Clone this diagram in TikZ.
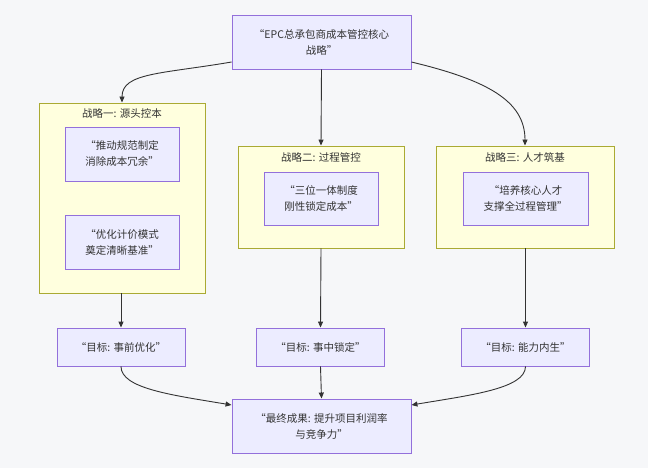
\documentclass[tikz,border=0pt]{standalone}
\usepackage{fontspec}
\setmainfont{Noto Sans CJK SC}
\usetikzlibrary{arrows.meta}
\definecolor{bg}{HTML}{F6F7F9}
\definecolor{nodefill}{HTML}{ECECFF}
\definecolor{nodeborder}{HTML}{9370DB}
\definecolor{clfill}{HTML}{FFFFDE}
\definecolor{clborder}{HTML}{AAAA33}
\definecolor{ink}{HTML}{333333}
\tikzset{
  box/.style={draw=nodeborder, fill=nodefill, line width=0.9pt, align=center,
    text=ink, font=\fontsize{10.5}{16}\selectfont, inner sep=0pt},
  cluster/.style={draw=clborder, fill=clfill, line width=0.9pt, inner sep=0pt},
  cltitle/.style={text=ink, font=\fontsize{10.5}{14}\selectfont, inner sep=0pt},
  link/.style={draw=ink, line width=0.9pt, -{Triangle[length=6pt,width=5pt]}},
}
\begin{document}
\begin{tikzpicture}[x=1pt,y=-1pt]
\fill[bg] (0,0) rectangle (648,468);
\useasboundingbox (0,0) rectangle (648,468);
% top
\node[box, minimum width=179pt, minimum height=54pt] (top) at (321.5,42) {“EPC总承包商成本管控核心\\战略”};
% clusters
\node[cluster, minimum width=166pt, minimum height=190pt] (c1) at (122,198) {};
\node[cluster, minimum width=166pt, minimum height=102pt] (c2) at (321,197) {};
\node[cluster, minimum width=178pt, minimum height=102pt] (c3) at (525,197) {};
\node[cltitle] (t1) at (122,113) {战略一: 源头控本};
\node[cltitle] (t2) at (321,157) {战略二: 过程管控};
\node[cltitle] (t3) at (525,157) {战略三: 人才筑基};
% inner boxes
\node[box, minimum width=114pt, minimum height=54pt] (a1) at (122,154) {“推动规范制定\\消除成本冗余”};
\node[box, minimum width=114pt, minimum height=54pt] (a2) at (122,242) {“优化计价模式\\奠定清晰基准”};
\node[box, minimum width=114pt, minimum height=53pt] (b1) at (321,198.5) {“三位一体制度\\刚性锁定成本”};
\node[box, minimum width=125pt, minimum height=53pt] (d1) at (525.5,198.5) {“培养核心人才\\支撑全过程管理”};
% goals
\node[box, minimum width=128pt, minimum height=38pt] (g1) at (121,347) {“目标: 事前优化”};
\node[box, minimum width=128pt, minimum height=38pt] (g2) at (320.5,347) {“目标: 事中锁定”};
\node[box, minimum width=128pt, minimum height=38pt] (g3) at (525.5,347) {“目标: 能力内生”};
% final
\node[box, minimum width=179pt, minimum height=54pt] (fin) at (321.5,426) {“最终成果: 提升项目利润率\\与竞争力”};
% edges
\draw[link] ([yshift=-20pt]top.west) .. controls +(-70,12) and +(0,-30) .. (c1.north);
\draw[link] (top.south) -- (c2.north);
\draw[link] ([yshift=-20pt]top.east) .. controls +(75,18) and +(0,-45) .. (c3.north);
\draw[link] (c1.south -| g1.north) -- (g1.north);
\draw[link] (c2.south) -- (g2.north);
\draw[link] (c3.south -| g3.north) -- (g3.north);
\draw[link] (g1.south) .. controls +(0,22) and +(-60,-10) .. ([yshift=21pt]fin.west);
\draw[link] (g2.south) -- (fin.north);
\draw[link] (g3.south) .. controls +(0,22) and +(60,-10) .. ([yshift=21pt]fin.east);
\end{tikzpicture}
\end{document}
